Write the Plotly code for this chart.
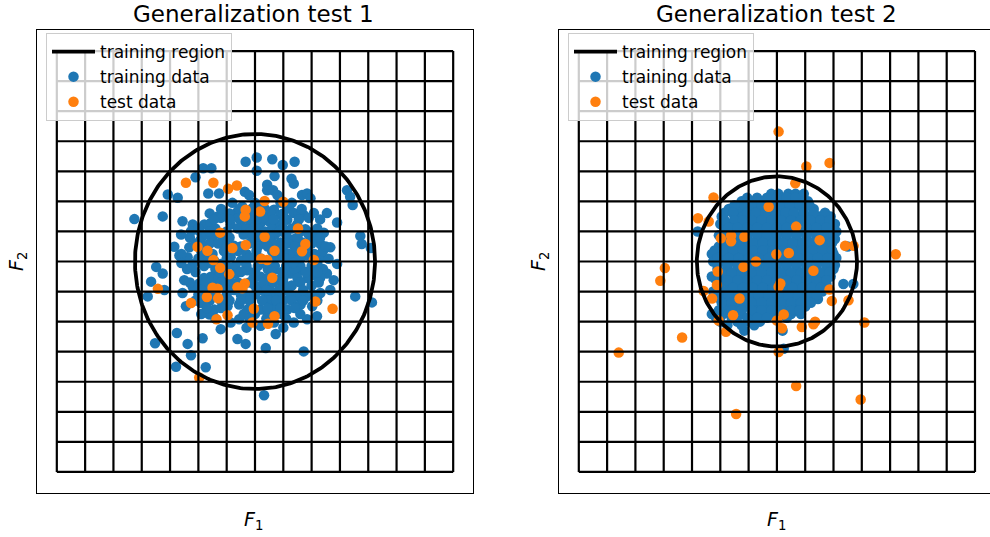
import numpy as np
import plotly.graph_objects as go

# ---------------------------------------------------------------------------
# Data
# ---------------------------------------------------------------------------
PANEL_TITLES = ["Generalization test 1", "Generalization test 2"]
GRID_TICKS = list(range(-7, 8))          # positions of the drawn mesh lines
REGION_RADIUS = [4.24, 2.83]             # radius of the training region per panel

# Panel 1 - training samples (F1, F2)
train1 = [
    (-0.33, 3.32), (0.06, 3.46), (0.61, 3.40), (0.98, 3.21), (1.40, 3.32), (-1.83, 3.10), (-1.54, 3.10),
    (0.06, 3.02), (0.69, 2.84), (1.29, 2.75), (1.37, 2.59), (-2.10, 2.80), (0.43, 2.55),
    (-3.08, 2.23), (-2.73, 2.12), (-1.65, 2.26), (-1.27, 2.26), (-0.36, 2.32), (-0.21, 2.21), (0.43, 2.37),
    (0.64, 2.37), (0.79, 2.21), (1.66, 2.21), (1.84, 2.26), (1.96, 2.10), (3.25, 2.37), (3.36, 2.15), (3.45, 1.88),
    (-4.26, 1.41), (-3.26, 1.50), (-2.56, 1.34), (-2.20, 1.23), (-1.32, 1.50), (-1.21, 1.45), (-1.03, 1.55),
    (-0.62, 1.66), (-0.45, 1.83), (-0.09, 1.77), (0.20, 1.88), (0.43, 1.66), (0.67, 1.72), (0.90, 1.55),
    (1.20, 1.77), (1.37, 1.61), (1.72, 1.55), (2.08, 1.61), (2.54, 1.61), (2.90, 1.30),
    (-1.79, 1.23), (-1.56, 1.28), (-0.86, 1.23), (-0.50, 1.34), (-0.09, 1.23), (0.20, 1.28), (0.49, 1.34),
    (0.79, 1.23), (1.14, 1.39), (1.49, 1.23), (1.78, 1.07), (2.08, 0.96), (2.43, 0.96), (3.72, 0.85),
    (-2.61, 0.90), (-2.26, 1.01), (-1.97, 1.01),
    (-2.85, 0.49), (-2.67, 0.20), (-2.32, 0.47), (-1.91, 0.74), (-1.50, 0.79), (-1.09, 0.68), (-0.74, 0.52),
    (-0.04, 0.74), (0.43, 0.74), (0.90, 0.63), (1.37, 0.74), (1.66, 0.63), (2.02, 0.74), (2.31, 0.58),
    (2.66, 0.47), (3.77, 0.58), (4.09, 0.45),
    (-3.49, -0.18), (-3.26, -0.40), (-2.38, 0.14), (-2.20, -0.08), (-1.79, 0.14), (-1.44, 0.03), (-1.21, -0.08),
    (-0.86, 0.14), (-0.50, 0.03), (-0.04, 0.14), (0.43, -0.02), (0.90, 0.14), (1.37, 0.14), (1.84, 0.20),
    (2.31, 0.14), (2.60, 0.09), (2.90, -0.08),
    (-3.67, -0.67), (-2.50, -0.62), (-1.97, -0.73), (-1.56, -0.51), (-1.09, -0.46), (-0.68, -0.40), (-0.27, -0.29),
    (0.20, -0.51), (0.79, -0.62), (1.25, -0.40), (1.61, -0.29), (2.08, -0.46), (2.54, -0.40), (2.78, -0.62),
    (-3.79, -1.16), (-3.20, -0.95), (-2.56, -1.05), (-2.20, -0.84), (-1.68, -1.00), (-1.21, -0.84), (-0.74, -0.95),
    (-0.27, -1.16), (0.20, -0.95), (0.67, -1.05), (1.14, -0.95), (1.49, -1.16), (1.84, -1.16), (2.31, -1.05),
    (2.66, -0.95), (3.54, -1.16), (4.13, -1.36),
    (-2.44, -1.49), (-1.91, -1.38), (-1.44, -1.60), (-0.97, -1.49), (-0.56, -1.43), (-0.27, -1.60), (0.20, -1.60),
    (0.67, -1.54), (1.14, -1.60), (1.61, -1.43), (2.02, -1.49), (2.19, -1.82),
    (-1.62, -1.76), (-1.21, -2.25), (-0.86, -2.03), (-0.56, -1.92), (0.20, -2.14), (0.67, -2.03), (1.37, -2.03),
    (1.84, -1.92),
    (-2.76, -2.38), (-3.53, -2.72), (-2.38, -2.74), (-2.26, -3.12), (-1.85, -2.55), (-0.62, -2.58), (-0.33, -2.74),
    (0.38, -2.88), (0.73, -2.41), (1.72, -2.99),
    (-2.79, -3.50), (-1.74, -3.52), (0.32, -4.45),
    # dense core
    (-0.80, 1.95), (0.00, 1.95), (0.90, 1.95), (1.30, 1.95),
    (-1.60, 1.60), (-0.90, 1.60), (-0.20, 1.60), (0.55, 1.60), (1.00, 1.60), (1.55, 1.60),
    (-0.60, 1.45), (0.30, 1.45), (1.90, 1.45),
    (-2.00, 1.10), (-1.40, 1.10), (-0.60, 1.10), (-0.30, 1.10), (0.10, 1.10), (0.60, 1.10), (1.00, 1.10),
    (1.30, 1.10), (2.20, 1.10),
    (-1.70, 0.90), (-1.20, 0.90), (-0.40, 0.90), (0.20, 0.90), (0.70, 0.90), (1.10, 0.90), (1.90, 0.90),
    (-2.10, 0.60), (-1.60, 0.60), (-1.30, 0.60), (-0.20, 0.60), (0.25, 0.60), (0.65, 0.60), (1.15, 0.60), (2.00, 0.60),
    (-1.90, 0.35), (-1.10, 0.35), (-0.60, 0.35), (0.05, 0.35), (0.60, 0.35), (1.00, 0.35), (1.50, 0.35), (2.40, 0.35),
    (-2.60, 0.25), (-1.50, 0.25), (-0.30, 0.25), (0.80, 0.25), (1.20, 0.25), (2.10, 0.25),
    (-1.80, -0.15), (-1.00, -0.15), (-0.70, -0.15), (-0.30, -0.15), (0.10, -0.15), (0.70, -0.15), (1.10, -0.15),
    (1.60, -0.15), (2.00, -0.15),
    (-2.40, -0.25), (-1.40, -0.25), (0.45, -0.25), (1.40, -0.25), (2.40, -0.25),
    (-1.80, -0.55), (-1.30, -0.55), (-0.90, -0.55), (-0.05, -0.55), (0.45, -0.55), (1.00, -0.55), (1.50, -0.55),
    (1.85, -0.55), (2.30, -0.55),
    (-1.50, -0.80), (-0.90, -0.80), (0.00, -0.80), (0.50, -0.80), (1.30, -0.80), (2.00, -0.80),
    (-2.00, -1.10), (-1.40, -1.10), (-1.00, -1.10), (-0.50, -1.10), (0.00, -1.10), (0.40, -1.10), (0.90, -1.10),
    (1.25, -1.10), (2.05, -1.10),
    (-1.20, -1.30), (-0.20, -1.30), (0.50, -1.30), (1.00, -1.30), (1.70, -1.30),
    (-1.90, -1.75), (-0.40, -1.75), (0.00, -1.75), (0.45, -1.75), (0.95, -1.75), (1.60, -1.75),
    (-0.30, -2.20), (1.00, -2.20),
    (-1.20, 1.75), (-0.55, 1.75), (0.35, 1.75), (1.65, 1.75),
    (-1.45, 1.40), (-0.90, 1.40), (-0.25, 1.40), (0.05, 1.40), (0.65, 1.40), (1.05, 1.40), (1.55, 1.40), (2.30, 1.40),
    (-1.60, 1.00), (-1.00, 1.00), (-0.15, 1.00), (0.35, 1.00), (0.85, 1.00), (1.60, 1.00), (1.85, 1.00),
    (-2.30, 0.80), (-0.90, 0.80), (-0.10, 0.80), (0.50, 0.80), (1.50, 0.80), (2.30, 0.80),
    (-1.85, 0.50), (-1.00, 0.50), (-0.50, 0.50), (0.10, 0.50), (0.45, 0.50), (0.95, 0.50), (1.40, 0.50),
    (1.85, 0.50), (2.50, 0.50),
    (-2.00, 0.10), (-1.00, 0.10), (-0.25, 0.10), (0.20, 0.10), (0.65, 0.10), (1.10, 0.10), (1.60, 0.10), (2.05, 0.10),
    (-2.60, -0.05), (-1.60, -0.05), (0.30, -0.05), (1.35, -0.05), (2.20, -0.05),
    (-2.10, -0.35), (-1.25, -0.35), (-0.50, -0.35), (0.00, -0.35), (0.60, -0.35), (0.95, -0.35), (1.80, -0.35),
    (2.20, -0.35),
    (-2.30, -0.70), (-1.75, -0.70), (-1.20, -0.70), (-0.60, -0.70), (-0.20, -0.70), (0.30, -0.70), (0.65, -0.70),
    (1.00, -0.70), (1.60, -0.70), (2.25, -0.70),
    (-1.90, -0.95), (-1.00, -0.95), (-0.45, -0.95), (0.40, -0.95), (0.85, -0.95), (1.70, -0.95),
    (-2.10, -1.30), (-1.60, -1.30), (-0.90, -1.30), (-0.50, -1.30), (0.25, -1.30), (0.75, -1.30), (1.30, -1.30),
    (2.20, -1.30),
    (-1.70, -1.55), (-1.20, -1.55), (0.45, -1.55), (0.90, -1.55), (1.40, -1.55),
    (-1.40, -1.90), (-0.20, -1.90), (0.40, -1.90), (1.10, -1.90),
]

# Panel 1 - test samples
test1 = [
    (-2.44, 2.62), (-1.47, 2.62), (-0.95, 2.42), (-0.64, 2.53), (-0.33, 1.72), (-0.36, 1.50), (0.18, 1.66),
    (0.34, 2.01), (1.00, 1.99), (1.52, 1.10), (1.78, 0.58), (1.66, 0.34), (2.08, 0.05), (0.34, 0.82),
    (0.69, 0.36), (-0.33, 0.55), (-0.80, 0.45), (-1.23, 0.96), (-2.03, 0.49), (-1.68, 0.36), (-1.47, 0.05),
    (-1.23, -0.21), (-0.91, -0.42), (0.22, 0.09), (0.43, 0.05), (0.61, -0.54), (-0.36, -0.73), (-0.45, -0.89),
    (-0.62, -0.86), (-1.32, -0.91), (-1.50, -0.87), (-1.70, -1.18), (-2.26, -1.38), (-3.43, -0.91),
    (-1.30, -1.22), (-0.04, -1.57), (2.13, -1.33), (2.74, -1.57), (-1.36, -1.92), (-0.97, -1.79),
    (-0.09, -2.03), (0.46, -2.07), (0.69, -1.82), (-1.97, -3.86),
]

# Panel 2 - training samples
train2 = [
    (-0.20, 2.25), (0.05, 2.25), (0.40, 2.25), (0.66, 2.25), (0.95, 2.25),
    (-1.25, 2.00), (-0.90, 2.00), (-0.55, 2.00), (-0.10, 2.00), (0.20, 2.00), (0.50, 2.00), (0.80, 2.00), (1.10, 2.00),
    (-1.70, 1.75), (-1.35, 1.75), (-1.00, 1.75), (-0.70, 1.75), (-0.40, 1.75), (0.00, 1.75), (0.30, 1.75),
    (0.60, 1.75), (0.95, 1.75), (1.30, 1.75),
    (-1.95, 1.50), (-1.50, 1.50), (-1.20, 1.50), (-0.90, 1.50), (-0.60, 1.50), (-0.25, 1.50), (0.10, 1.50),
    (0.45, 1.50), (0.80, 1.50), (1.15, 1.50), (1.50, 1.50), (1.90, 1.50),
    (-2.00, 1.25), (-1.70, 1.25), (-1.35, 1.25), (-1.05, 1.25), (-0.75, 1.25), (-0.40, 1.25), (-0.05, 1.25),
    (0.30, 1.25), (0.65, 1.25), (1.00, 1.25), (1.35, 1.25), (1.70, 1.25), (2.05, 1.25),
    (-2.80, 1.00), (-1.85, 1.00), (-1.55, 1.00), (-1.20, 1.00), (-0.90, 1.00), (-0.55, 1.00), (-0.20, 1.00),
    (0.15, 1.00), (0.50, 1.00), (0.85, 1.00), (1.20, 1.00), (1.55, 1.00), (1.85, 1.00), (2.10, 1.00),
    (-1.90, 0.75), (-1.40, 0.75), (-1.05, 0.75), (-0.70, 0.75), (-0.35, 0.75), (0.00, 0.75), (0.35, 0.75),
    (0.70, 0.75), (1.05, 0.75), (1.40, 0.75), (1.75, 0.75), (2.05, 0.75),
    (-2.05, 0.50), (-1.70, 0.50), (-1.35, 0.50), (-1.00, 0.50), (-0.65, 0.50), (-0.30, 0.50), (0.05, 0.50),
    (0.40, 0.50), (0.75, 0.50), (1.10, 0.50), (1.45, 0.50), (1.80, 0.50), (2.50, 0.50),
    (-2.30, 0.25), (-1.85, 0.25), (-1.50, 0.25), (-1.15, 0.25), (-0.80, 0.25), (-0.45, 0.25), (-0.10, 0.25),
    (0.25, 0.25), (0.60, 0.25), (0.95, 0.25), (1.30, 0.25), (1.65, 0.25), (2.00, 0.25),
    (-2.25, 0.00), (-1.95, 0.00), (-1.60, 0.00), (-1.25, 0.00), (-0.90, 0.00), (-0.55, 0.00), (-0.20, 0.00),
    (0.15, 0.00), (0.50, 0.00), (0.85, 0.00), (1.20, 0.00), (1.55, 0.00), (1.90, 0.00),
    (-2.10, -0.25), (-1.75, -0.25), (-1.40, -0.25), (-1.05, -0.25), (-0.70, -0.25), (-0.35, -0.25), (0.00, -0.25),
    (0.35, -0.25), (0.70, -0.25), (1.05, -0.25), (1.40, -0.25), (1.75, -0.25), (2.00, -0.25),
    (-2.30, -0.50), (-1.90, -0.50), (-1.55, -0.50), (-1.20, -0.50), (-0.85, -0.50), (-0.50, -0.50), (-0.15, -0.50),
    (0.20, -0.50), (0.55, -0.50), (0.90, -0.50), (1.25, -0.50), (1.60, -0.50), (1.90, -0.50),
    (-2.00, -0.75), (-1.70, -0.75), (-1.35, -0.75), (-1.00, -0.75), (-0.65, -0.75), (-0.30, -0.75), (0.05, -0.75),
    (0.40, -0.75), (0.75, -0.75), (1.10, -0.75), (1.45, -0.75), (1.75, -0.75), (2.35, -0.75), (2.70, -0.75),
    (-2.25, -1.00), (-1.85, -1.00), (-1.50, -1.00), (-1.15, -1.00), (-0.80, -1.00), (-0.45, -1.00), (-0.10, -1.00),
    (0.25, -1.00), (0.60, -1.00), (0.95, -1.00), (1.30, -1.00), (1.60, -1.00),
    (-2.00, -1.25), (-1.65, -1.25), (-1.30, -1.25), (-0.95, -1.25), (-0.60, -1.25), (-0.25, -1.25), (0.10, -1.25),
    (0.45, -1.25), (0.80, -1.25), (1.15, -1.25), (1.45, -1.25),
    (-1.80, -1.50), (-1.45, -1.50), (-1.10, -1.50), (-0.75, -1.50), (-0.40, -1.50), (-0.05, -1.50), (0.30, -1.50),
    (0.65, -1.50), (1.00, -1.50),
    (-2.30, -1.75), (-1.90, -1.75), (-1.25, -1.75), (-0.85, -1.75), (-0.50, -1.75), (-0.15, -1.75), (0.20, -1.75),
    (0.50, -1.75), (0.85, -1.75),
    (-2.00, -2.00), (-1.40, -2.00), (-1.00, -2.00), (-0.60, -2.00),
    (-1.15, -2.30), (0.20, -2.30), (0.24, -2.90),
    # in-between rows of the packed core
    (-1.05, 2.12), (-0.70, 2.12), (-0.35, 2.12), (0.00, 2.12), (0.35, 2.12), (0.65, 2.12),
    (-1.50, 1.87), (-1.15, 1.87), (-0.85, 1.87), (-0.55, 1.87), (-0.20, 1.87), (0.15, 1.87), (0.45, 1.87),
    (0.80, 1.87), (1.15, 1.87),
    (-1.85, 1.62), (-1.55, 1.62), (-1.05, 1.62), (-0.75, 1.62), (-0.40, 1.62), (-0.05, 1.62), (0.30, 1.62),
    (0.60, 1.62), (0.95, 1.62), (1.30, 1.62), (1.70, 1.62),
    (-1.85, 1.37), (-1.50, 1.37), (-1.20, 1.37), (-0.90, 1.37), (-0.55, 1.37), (-0.20, 1.37), (0.15, 1.37),
    (0.50, 1.37), (0.85, 1.37), (1.20, 1.37), (1.55, 1.37), (1.85, 1.37),
    (-1.70, 1.12), (-1.40, 1.12), (-1.05, 1.12), (-0.70, 1.12), (-0.35, 1.12), (0.00, 1.12), (0.35, 1.12),
    (0.70, 1.12), (1.05, 1.12), (1.40, 1.12), (1.75, 1.12),
    (-2.05, 0.87), (-1.70, 0.87), (-1.35, 0.87), (-1.05, 0.87), (-0.70, 0.87), (-0.35, 0.87), (0.00, 0.87),
    (0.35, 0.87), (0.70, 0.87), (1.05, 0.87), (1.40, 0.87), (1.70, 0.87), (2.00, 0.87),
    (-1.85, 0.62), (-1.50, 0.62), (-1.20, 0.62), (-0.85, 0.62), (-0.50, 0.62), (-0.15, 0.62), (0.20, 0.62),
    (0.55, 0.62), (0.90, 0.62), (1.25, 0.62), (1.60, 0.62), (1.95, 0.62),
    (-2.20, 0.37), (-1.90, 0.37), (-1.55, 0.37), (-1.20, 0.37), (-0.85, 0.37), (-0.50, 0.37), (-0.15, 0.37),
    (0.20, 0.37), (0.55, 0.37), (0.90, 0.37), (1.25, 0.37), (1.60, 0.37), (1.95, 0.37),
    (-2.10, 0.12), (-1.70, 0.12), (-1.35, 0.12), (-1.00, 0.12), (-0.65, 0.12), (-0.30, 0.12), (0.05, 0.12),
    (0.40, 0.12), (0.75, 0.12), (1.10, 0.12), (1.45, 0.12), (1.80, 0.12), (2.10, 0.12),
    (-2.10, -0.12), (-1.75, -0.12), (-1.40, -0.12), (-1.05, -0.12), (-0.70, -0.12), (-0.35, -0.12), (0.00, -0.12),
    (0.35, -0.12), (0.70, -0.12), (1.05, -0.12), (1.40, -0.12), (1.75, -0.12), (2.05, -0.12),
    (-1.95, -0.37), (-1.60, -0.37), (-1.25, -0.37), (-0.90, -0.37), (-0.55, -0.37), (-0.20, -0.37), (0.15, -0.37),
    (0.50, -0.37), (0.85, -0.37), (1.20, -0.37), (1.55, -0.37), (1.85, -0.37),
    (-2.15, -0.62), (-1.75, -0.62), (-1.40, -0.62), (-1.05, -0.62), (-0.70, -0.62), (-0.35, -0.62), (0.00, -0.62),
    (0.35, -0.62), (0.70, -0.62), (1.05, -0.62), (1.40, -0.62), (1.75, -0.62),
    (-2.10, -0.87), (-1.55, -0.87), (-1.20, -0.87), (-0.85, -0.87), (-0.50, -0.87), (-0.15, -0.87), (0.20, -0.87),
    (0.55, -0.87), (0.90, -0.87), (1.25, -0.87), (1.55, -0.87),
    (-2.10, -1.12), (-1.70, -1.12), (-1.35, -1.12), (-1.00, -1.12), (-0.65, -1.12), (-0.30, -1.12), (0.05, -1.12),
    (0.40, -1.12), (0.75, -1.12), (1.10, -1.12), (1.40, -1.12),
    (-1.95, -1.37), (-1.60, -1.37), (-1.25, -1.37), (-0.90, -1.37), (-0.55, -1.37), (-0.20, -1.37), (0.15, -1.37),
    (0.50, -1.37), (0.85, -1.37), (1.20, -1.37),
    (-2.05, -1.62), (-1.60, -1.62), (-1.25, -1.62), (-0.90, -1.62), (-0.55, -1.62), (-0.20, -1.62), (0.15, -1.62),
    (0.50, -1.62), (0.80, -1.62),
    (-2.15, -1.87), (-1.60, -1.87), (-1.05, -1.87), (-0.70, -1.87), (-0.35, -1.87), (0.35, -1.87),
    (-1.75, -2.12), (-1.25, -2.12), (-0.80, -2.12),
]

# Panel 2 - test samples
test2 = [
    (0.06, 4.32), (1.04, 3.16), (1.86, 3.28), (0.65, 2.60), (-2.24, 2.13), (-0.29, 1.82), (-2.79, 1.44),
    (-2.41, 1.33), (0.68, 1.16), (-1.98, 0.77), (-1.62, 0.86), (-1.62, 0.67), (-1.15, 0.82), (1.51, 0.71),
    (2.41, 0.52), (2.71, 0.52), (4.20, 0.24), (-0.02, 0.24), (0.42, 0.28), (-0.74, 0.00), (-1.18, -0.18),
    (1.29, -0.31), (-3.96, -0.22), (-4.12, -0.64), (-2.09, -0.33), (-2.12, -0.78), (0.12, -0.73), (0.06, -0.84),
    (-2.59, -0.98), (-2.29, -1.23), (-1.32, -1.23), (1.86, -0.93), (1.94, -1.31), (2.53, -1.29), (-1.55, -1.79),
    (0.24, -1.76), (0.00, -1.96), (0.18, -2.22), (0.88, -2.18), (1.29, -2.09), (1.35, -2.00), (3.09, -2.03),
    (-1.80, -2.34), (-2.06, -1.96), (-3.35, -2.53), (-5.59, -3.03), (0.06, -3.01), (0.68, -4.14),
    (2.96, -4.59), (-1.44, -5.07),
]

# ---------------------------------------------------------------------------
# Styling
# ---------------------------------------------------------------------------
W, H = 990, 537
BLUE, ORANGE = "#1f77b4", "#ff7f0e"
FONT = "DejaVu Sans"

# axes boxes in pixels: (left, right, top, bottom)
BOX = [(37, 473, 30, 493), (559, 990, 30, 493)]
X_RANGES = [[-7.7, 7.7], [-7.7, 7.53]]
Y_RANGE = [-7.7, 7.7]


def px_x(p):
    return p / W


def px_y(p):
    return 1 - p / H


fig = go.Figure()


def mesh_lines(ticks):
    xs, ys = [], []
    lo, hi = ticks[0], ticks[-1]
    for t in ticks:
        xs += [t, t, None]
        ys += [lo, hi, None]
        xs += [lo, hi, None]
        ys += [t, t, None]
    return xs, ys


theta = np.linspace(0, 2 * np.pi, 361)

for i in range(2):
    xa = "x" if i == 0 else "x2"
    ya = "y" if i == 0 else "y2"
    leg = "legend" if i == 0 else "legend2"
    train = train1 if i == 0 else train2
    test = test1 if i == 0 else test2

    fig.add_trace(go.Scatter(
        x=[p[0] for p in train], y=[p[1] for p in train], mode="markers",
        marker=dict(color=BLUE, size=10.5, line=dict(width=0)),
        name="training data", legend=leg, legendrank=2, xaxis=xa, yaxis=ya,
    ))
    fig.add_trace(go.Scatter(
        x=[p[0] for p in test], y=[p[1] for p in test], mode="markers",
        marker=dict(color=ORANGE, size=10.5, line=dict(width=0)),
        name="test data", legend=leg, legendrank=3, xaxis=xa, yaxis=ya,
    ))
    gx, gy = mesh_lines(GRID_TICKS)
    fig.add_trace(go.Scatter(
        x=gx, y=gy, mode="lines", line=dict(color="black", width=2.2),
        showlegend=False, hoverinfo="skip", xaxis=xa, yaxis=ya,
    ))
    r = REGION_RADIUS[i]
    fig.add_trace(go.Scatter(
        x=r * np.cos(theta), y=r * np.sin(theta), mode="lines",
        line=dict(color="black", width=3.8),
        name="training region", legend=leg, legendrank=1, xaxis=xa, yaxis=ya,
    ))

axis_common = dict(showticklabels=False, ticks="", showgrid=False, zeroline=False,
                   showline=True, linecolor="black", linewidth=1.3)

layout = dict(
    width=W, height=H, margin=dict(l=0, r=0, t=0, b=0),
    paper_bgcolor="white", plot_bgcolor="white",
    font=dict(family=FONT, color="black"),
)
for i in range(2):
    l, r_, t, b = BOX[i]
    sx = "" if i == 0 else "2"
    layout["xaxis" + sx] = dict(axis_common, domain=[px_x(l), min(px_x(r_), 1.0)],
                                range=X_RANGES[i], mirror=True,
                                anchor="y" + sx)
    layout["yaxis" + sx] = dict(axis_common, domain=[px_y(b), px_y(t)], range=Y_RANGE,
                                mirror=(i == 0), anchor="x" + sx)
    legname = "legend" if i == 0 else "legend2"
    layout[legname] = dict(
        x=px_x(l + 9), y=px_y(t + 3), xanchor="left", yanchor="top",
        bgcolor="rgba(255,255,255,0.8)", bordercolor="#cccccc", borderwidth=1,
        font=dict(family=FONT, size=17, color="black"),
        traceorder="normal", itemwidth=43,
    )

fig.update_layout(**layout)

centers = [253.5, 776]
for i in range(2):
    fig.add_annotation(x=px_x(centers[i]), y=px_y(14), xref="paper", yref="paper",
                       text=PANEL_TITLES[i], showarrow=False, xanchor="center", yanchor="middle",
                       font=dict(family=FONT, size=23, color="black"))
    fig.add_annotation(x=px_x(centers[i]), y=px_y(520), xref="paper", yref="paper",
                       text="<i>F</i><sub>1</sub>", showarrow=False, xanchor="center", yanchor="middle",
                       font=dict(family=FONT, size=19, color="black"))
    fig.add_annotation(x=px_x(BOX[i][0] - 20), y=px_y(262), xref="paper", yref="paper",
                       text="<i>F</i><sub>2</sub>", showarrow=False, textangle=-90,
                       xanchor="center", yanchor="middle",
                       font=dict(family=FONT, size=19, color="black"))

fig.write_html("out.html")
